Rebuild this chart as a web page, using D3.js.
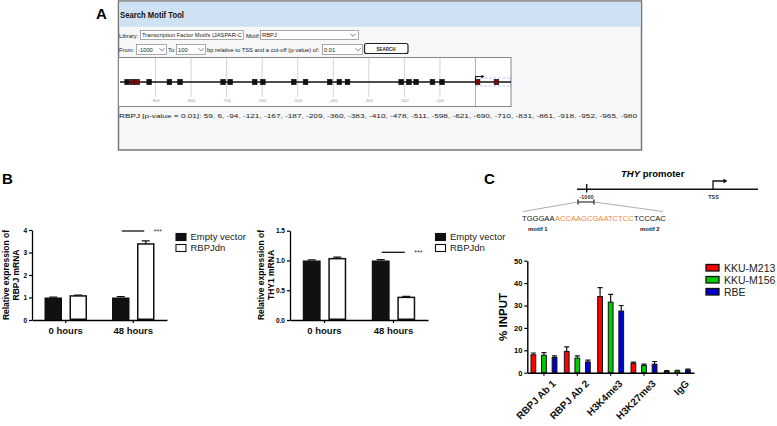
<!DOCTYPE html>
<html><head><meta charset="utf-8">
<script src="https://cdn.jsdelivr.net/npm/d3@7"></script>
<style>
body{margin:0;background:#fff}
svg{display:block}
text{font-family:"Liberation Sans",Arial,sans-serif}
</style>
</head><body>
<svg id="fig" width="777" height="426"></svg>
<script>
// ---------------- DATA ----------------
const motifPositions = [59, 6, -94, -121, -167, -187, -209, -360, -383, -410, -478, -511, -598, -621, -690, -710, -831, -861, -918, -952, -965, -980];
const highlightedMotifs = [59, 6, -952, -965];
const motifAxisTicks = [-900, -800, -700, -600, -500, -400, -300, -200, -100];
const motifGridLines = [-900, -800, -700, -600, -500, -400, -300, -200, -100, 0];

const timeCategories = ["0 hours", "48 hours"];
const vectorSeries = ["Empty vector", "RBPJdn"];
const rbpjMean = [[1.0, 1.07], [1.0, 3.38]];
const rbpjErr  = [[0.02, 0.04], [0.04, 0.14]];
const rbpjTicks = [0, 1, 2, 3, 4];
const thy1Mean = [[1.0, 1.03], [1.0, 0.38]];
const thy1Err  = [[0.01, 0.025], [0.015, 0.015]];
const thy1Ticks = [0, 0.5, 1.0, 1.5];

const chipCategories = ["RBPJ Ab 1", "RBPJ Ab 2", "H3K4me3", "H3K27me3", "IgG"];
const cellLines = ["KKU-M213", "KKU-M156", "RBE"];
const chipMean = [[8.0, 7.8, 6.8], [9.5, 6.5, 4.8], [34.0, 31.5, 27.5], [4.2, 3.2, 3.8], [0.6, 0.8, 1.2]];
const chipErr  = [[0.8, 1.2, 0.7], [2.0, 1.0, 0.8], [4.0, 3.5, 2.5], [0.5, 0.6, 1.2], [0.3, 0.3, 0.4]];
const chipTicks = [0, 10, 20, 30, 40, 50];
const cellColors = ["#ff0000", "#00cc00", "#0000cc"];

const seqParts = [["TGGGAA", "#111"], ["ACCAAGCGAATCTCC", "#f0883a"], ["TCCCAC", "#111"]];

// ---------------- DRAW ----------------
const svg = d3.select("#fig");
svg.append("rect").attr("width", 777).attr("height", 426).attr("fill", "#fff");

// ===== Panel A =====
const A = svg.append("g");
A.append("text").attr("x", 96).attr("y", 19).attr("font-size", 15).attr("font-weight", "bold").text("A");
A.append("rect").attr("x", 118.5).attr("y", 1).attr("width", 523).attr("height", 149)
  .attr("fill", "#f6f7f9").attr("stroke", "#777").attr("stroke-width", 1.5);
A.append("rect").attr("x", 119.3).attr("y", 1.8).attr("width", 521.4).attr("height", 25).attr("fill", "#cfe2f4");
A.append("text").attr("x", 120).attr("y", 17.5).attr("font-size", 8.5).attr("font-weight", "bold").attr("fill", "#111")
  .attr("textLength", 64).attr("lengthAdjust", "spacingAndGlyphs").text("Search Motif Tool");

function selectBox(g, x, y, w, h, label, tl) {
  g.append("rect").attr("x", x).attr("y", y).attr("width", w).attr("height", h).attr("fill", "#fff").attr("stroke", "#888").attr("stroke-width", 0.7);
  const t = g.append("text").attr("x", x + 1.5).attr("y", y + h - 2.2).attr("font-size", 5.8).attr("fill", "#222").text(label);
  if (tl) t.attr("textLength", tl).attr("lengthAdjust", "spacingAndGlyphs");
}
function chevron(g, x, y) {
  g.append("path").attr("d", `M${x - 2.5},${y - 1.2} L${x},${y + 1.3} L${x + 2.5},${y - 1.2}`).attr("fill", "none").attr("stroke", "#444").attr("stroke-width", 0.7);
}
A.append("text").attr("x", 119).attr("y", 37.5).attr("font-size", 5.8).attr("fill", "#222").text("Library:");
selectBox(A, 140.5, 30.5, 103, 9, "Transcription Factor Motifs (JASPAR-C", 100);
A.append("text").attr("x", 246).attr("y", 37.5).attr("font-size", 5.8).attr("fill", "#222").text("Motif:");
selectBox(A, 260.5, 30.5, 98, 9, "RBPJ");
chevron(A, 353, 35);
A.append("text").attr("x", 119).attr("y", 51.5).attr("font-size", 5.8).attr("fill", "#222").text("From:");
selectBox(A, 136.5, 44.5, 30, 10, "-1000");
chevron(A, 162, 49.5);
A.append("text").attr("x", 168).attr("y", 51.5).attr("font-size", 5.8).attr("fill", "#222").text("To:");
selectBox(A, 176.5, 44.5, 29, 10, "100");
chevron(A, 201, 49.5);
A.append("text").attr("x", 207).attr("y", 51.5).attr("font-size", 5.8).attr("fill", "#222").text("bp relative to TSS and a cut-off (p-value) of:");
selectBox(A, 322.5, 44.5, 40, 10, "0.01");
chevron(A, 358, 49.5);
A.append("rect").attr("x", 364.5).attr("y", 43.5).attr("width", 43.5).attr("height", 10).attr("rx", 2).attr("fill", "#fff").attr("stroke", "#222").attr("stroke-width", 1.2);
A.append("text").attr("x", 386).attr("y", 50.5).attr("text-anchor", "middle").attr("font-size", 4.5).attr("font-weight", "bold").attr("fill", "#222").text("SEARCH");

// motif map
const xA = d3.scaleLinear().domain([-1000, 100]).range([120, 511]);
A.append("rect").attr("x", 118.5).attr("y", 57.5).attr("width", 392.5).attr("height", 49).attr("fill", "#fff").attr("stroke", "#888").attr("stroke-width", 1);
A.selectAll(".grid").data(motifGridLines).join("line")
  .attr("x1", d => xA(d)).attr("x2", d => xA(d)).attr("y1", 58).attr("y2", d => d === 0 ? 106 : 97)
  .attr("stroke", d => d === 0 ? "#999" : "#c8c8c8").attr("stroke-width", 0.8);
A.selectAll(".glab").data(motifAxisTicks).join("text")
  .attr("x", d => xA(d)).attr("y", 101.5).attr("text-anchor", "middle").attr("font-size", 4.3).attr("fill", "#999").text(d => d);
A.append("rect").attr("x", xA(0)).attr("y", 78).attr("width", xA(100) - xA(0)).attr("height", 8)
  .attr("fill", "none").attr("stroke", "#9a9af0").attr("stroke-width", 0.6).attr("stroke-dasharray", "3,1.5");
A.append("line").attr("x1", xA(-1000)).attr("x2", xA(100)).attr("y1", 82).attr("y2", 82).attr("stroke", "#111").attr("stroke-width", 1.6);
A.append("path").attr("d", `M${xA(0)},82 V76.5 H${xA(0) + 7}`).attr("fill", "none").attr("stroke", "#111").attr("stroke-width", 1);
A.append("path").attr("d", `M${xA(0) + 9},76.5 L${xA(0) + 6},74.7 L${xA(0) + 6},78.3 Z`).attr("fill", "#111");
A.selectAll(".mot").data(motifPositions).join("rect")
  .attr("x", d => xA(d) - 2.3).attr("y", 79.3).attr("width", 4.6).attr("height", 5.4)
  .attr("fill", d => highlightedMotifs.includes(d) ? "#7a0a0a" : "#111").attr("stroke", "#111").attr("stroke-width", 0.6);
A.append("text").attr("x", 119).attr("y", 118).attr("font-size", 6.2).attr("font-family", "'Liberation Mono','DejaVu Sans Mono',monospace")
  .attr("fill", "#222").attr("textLength", 518).attr("lengthAdjust", "spacingAndGlyphs")
  .text("RBPJ [p-value = 0.01]: " + motifPositions.join(", "));

// ===== Panel B =====
svg.append("text").attr("x", 2).attr("y", 184).attr("font-size", 15).attr("font-weight", "bold").text("B");

function barPanel(opts) {
  const g = svg.append("g");
  const y = d3.scaleLinear().domain(opts.domain).range([320, opts.yTop]);
  const x0 = d3.scaleBand().domain(timeCategories).range([opts.x0, opts.x1]).padding(0);
  const x1 = d3.scaleBand().domain(vectorSeries).range([0, x0.bandwidth()]).paddingInner(0.3).paddingOuter(0.5);
  const rows = [];
  timeCategories.forEach((c, i) => vectorSeries.forEach((s, j) => rows.push({c, s, j, v: opts.mean[i][j], e: opts.err[i][j]})));
  g.selectAll(".eb").data(rows).join("path")
    .attr("d", d => {
      const cx = x0(d.c) + x1(d.s) + x1.bandwidth() / 2;
      return `M${cx},${y(d.v)} V${y(d.v + d.e)} M${cx - 4},${y(d.v + d.e)} H${cx + 4}`;
    }).attr("stroke", "#111").attr("stroke-width", 1.3).attr("fill", "none");
  g.selectAll(".bar").data(rows).join("rect")
    .attr("x", d => x0(d.c) + x1(d.s) + (d.j ? 0.75 : 0)).attr("width", d => x1.bandwidth() - (d.j ? 1.5 : 0))
    .attr("y", d => y(d.v)).attr("height", d => y(0) - y(d.v) - (d.j ? 0.75 : 0))
    .attr("fill", d => d.j ? "#fff" : "#111").attr("stroke", "#111").attr("stroke-width", d => d.j ? 1.5 : 0);
  const ya = g.append("g").attr("transform", `translate(${opts.x0},0)`)
    .call(d3.axisLeft(y).tickValues(opts.ticks).tickSize(3).tickSizeOuter(0).tickFormat(opts.fmt));
  ya.select(".domain").attr("stroke-width", 1.3);
  ya.selectAll("line").attr("stroke-width", 1.2);
  ya.selectAll("text").attr("font-size", 6.5).attr("font-weight", "bold").attr("font-family", "'Liberation Sans',Arial,sans-serif").attr("dx", 1);
  const xa = g.append("g").attr("transform", `translate(0,320)`)
    .call(d3.axisBottom(x0).tickSize(3).tickSizeOuter(0));
  xa.select(".domain").attr("stroke-width", 1.3);
  xa.selectAll("line").attr("stroke-width", 1.2);
  xa.selectAll("text").attr("font-size", 9.5).attr("font-weight", "bold").attr("font-family", "'Liberation Sans',Arial,sans-serif").attr("dy", "0.85em").attr("fill", "#111");
  g.append("text").attr("transform", `translate(${opts.titleX},${opts.titleY}) rotate(-90)`)
    .attr("text-anchor", "middle").attr("font-size", 8.5).attr("font-weight", "bold")
    .selectAll("tspan").data(opts.title).join("tspan").attr("x", 0).attr("dy", (d, i) => i ? "1.15em" : 0).text(d => d);
  const d48 = timeCategories[1];
  const cEV = x0(d48) + x1(vectorSeries[0]) + x1.bandwidth() / 2;
  const cDN = x0(d48) + x1(vectorSeries[1]) + x1.bandwidth() / 2;
  g.append("line").attr("x1", cEV + 1).attr("x2", cDN - 1.5).attr("y1", opts.sigY).attr("y2", opts.sigY).attr("stroke", "#111").attr("stroke-width", 1.3);
  g.append("text").attr("x", cDN + 8).attr("y", opts.sigY + 3).attr("font-size", 7).attr("fill", "#333").text("***");
  const lg = g.append("g").attr("transform", `translate(${opts.legX},233)`);
  vectorSeries.forEach((s, i) => {
    lg.append("rect").attr("x", 0.5).attr("y", i * 11 + 0.5).attr("width", 10).attr("height", 7)
      .attr("fill", i ? "#fff" : "#111").attr("stroke", "#111").attr("stroke-width", 1.1);
    lg.append("text").attr("x", 15).attr("y", i * 11 + 7.4).attr("font-size", 9.5).attr("fill", "#222").text(s);
  });
}
barPanel({domain: [0, 4], yTop: 230, x0: 32, x1: 167, mean: rbpjMean, err: rbpjErr, ticks: rbpjTicks, fmt: d3.format("d"),
  title: ["Relative expression of", "RBPJ mRNA"], titleX: 9, titleY: 275, sigY: 231, legX: 175.5});
barPanel({domain: [0, 1.5], yTop: 230.7, x0: 290, x1: 428, mean: thy1Mean, err: thy1Err, ticks: thy1Ticks, fmt: d3.format(".1f"),
  title: ["Relative expression of", "THY1 mRNA"], titleX: 264, titleY: 275, sigY: 252.3, legX: 435});

// ===== Panel C =====
svg.append("text").attr("x", 484).attr("y", 184).attr("font-size", 15).attr("font-weight", "bold").text("C");
const P = svg.append("g");
const ptitle = P.append("text").attr("x", 621).attr("y", 177).attr("font-size", 9.5).attr("font-weight", "bold");
ptitle.append("tspan").attr("font-style", "italic").text("THY");
ptitle.append("tspan").text(" promoter");
P.append("line").attr("x1", 577).attr("x2", 758).attr("y1", 189.3).attr("y2", 189.3).attr("stroke", "#111").attr("stroke-width", 1.6);
P.append("line").attr("x1", 586.7).attr("x2", 586.7).attr("y1", 184).attr("y2", 192.5).attr("stroke", "#111").attr("stroke-width", 1.4);
P.append("path").attr("d", "M713,189.3 V181 H724").attr("fill", "none").attr("stroke", "#111").attr("stroke-width", 1.3);
P.append("path").attr("d", "M727.5,181 L723.5,178.6 L723.5,183.4 Z").attr("fill", "#111");
P.append("text").attr("x", 713.5).attr("y", 198.5).attr("text-anchor", "middle").attr("font-size", 5.5).attr("font-weight", "bold").attr("fill", "#333").text("TSS");
P.append("text").attr("x", 586.5).attr("y", 198.5).attr("text-anchor", "middle").attr("font-size", 5.5).attr("font-weight", "bold").attr("fill", "#333").text("-1000");
P.append("path").attr("d", "M578,202 H594 M578,199.5 V204.5 M594,199.5 V204.5").attr("stroke", "#111").attr("stroke-width", 1.2).attr("fill", "none");
P.append("path").attr("d", "M578,202 L523,211.5 M594,202 L663,211.5").attr("stroke", "#b0b0b0").attr("stroke-width", 1.2).attr("fill", "none");
// sequence: each part its own text, placed after the measured width of the previous part
let sx = 522;
seqParts.forEach(p => {
  const t = P.append("text").attr("x", sx).attr("y", 220.5).attr("font-size", 7.6).attr("fill", p[1]).text(p[0]);
  sx += t.node().getComputedTextLength() + 0.4;
});
P.append("text").attr("x", 528).attr("y", 231).attr("font-size", 6).attr("font-weight", "bold").attr("fill", "#222").text("motif 1");
P.append("text").attr("x", 640).attr("y", 231).attr("font-size", 6).attr("font-weight", "bold").attr("fill", "#222").text("motif 2");

// chart C
const C = svg.append("g");
const yC = d3.scaleLinear().domain([0, 50]).range([372.7, 260.7]);
const xC0 = d3.scaleBand().domain(chipCategories).range([527.3, 694]).padding(0);
const xC1 = d3.scaleBand().domain(cellLines).range([0, xC0.bandwidth()]).paddingInner(0.55).paddingOuter(0.35);
const crow = [];
chipCategories.forEach((c, i) => cellLines.forEach((s, j) => crow.push({c, s, j, v: chipMean[i][j], e: chipErr[i][j]})));
C.selectAll(".eb").data(crow).join("path")
  .attr("d", d => {
    const cx = xC0(d.c) + xC1(d.s) + xC1.bandwidth() / 2;
    return `M${cx},${yC(d.v)} V${yC(d.v + d.e)} M${cx - 2.5},${yC(d.v + d.e)} H${cx + 2.5}`;
  }).attr("stroke", "#111").attr("stroke-width", 1.2).attr("fill", "none");
C.selectAll(".bar").data(crow).join("rect")
  .attr("x", d => xC0(d.c) + xC1(d.s)).attr("width", xC1.bandwidth())
  .attr("y", d => yC(d.v)).attr("height", d => yC(0) - yC(d.v))
  .attr("fill", d => cellColors[d.j]).attr("stroke", "#111").attr("stroke-width", 1);
const yCa = C.append("g").attr("transform", "translate(527.3,0)")
  .call(d3.axisLeft(yC).tickValues(chipTicks).tickSize(3).tickSizeOuter(0));
yCa.select(".domain").attr("stroke-width", 1.4);
yCa.selectAll("line").attr("stroke-width", 1.2);
yCa.selectAll("text").attr("font-size", 7.5).attr("font-weight", "bold").attr("font-family", "'Liberation Sans',Arial,sans-serif").attr("dx", 1);
const xCa = C.append("g").attr("transform", "translate(0,372.7)")
  .call(d3.axisBottom(xC0).tickSize(3).tickSizeOuter(0));
xCa.select(".domain").attr("stroke-width", 1.4);
xCa.selectAll("line").attr("stroke-width", 1.2);
xCa.selectAll("text").attr("font-size", 10).attr("font-weight", "bold").attr("font-family", "'Liberation Sans',Arial,sans-serif")
  .attr("fill", "#111").attr("text-anchor", "end").attr("transform", "translate(4,3) rotate(-45)").attr("dy", "0.6em").attr("dx", "0");
C.append("text").attr("transform", "translate(507,317) rotate(-90)").attr("text-anchor", "middle")
  .attr("font-size", 11.5).attr("font-weight", "bold").text("% INPUT");
const lgC = C.append("g").attr("transform", "translate(706,264.5)");
cellLines.forEach((s, i) => {
  lgC.append("rect").attr("x", 0).attr("y", i * 12).attr("width", 13).attr("height", 6.5)
    .attr("fill", cellColors[i]).attr("stroke", "#111").attr("stroke-width", 1.3);
  lgC.append("text").attr("x", 18).attr("y", i * 12 + 7.3).attr("font-size", 10.5).attr("fill", "#222").text(s);
});
</script>
</body></html>
